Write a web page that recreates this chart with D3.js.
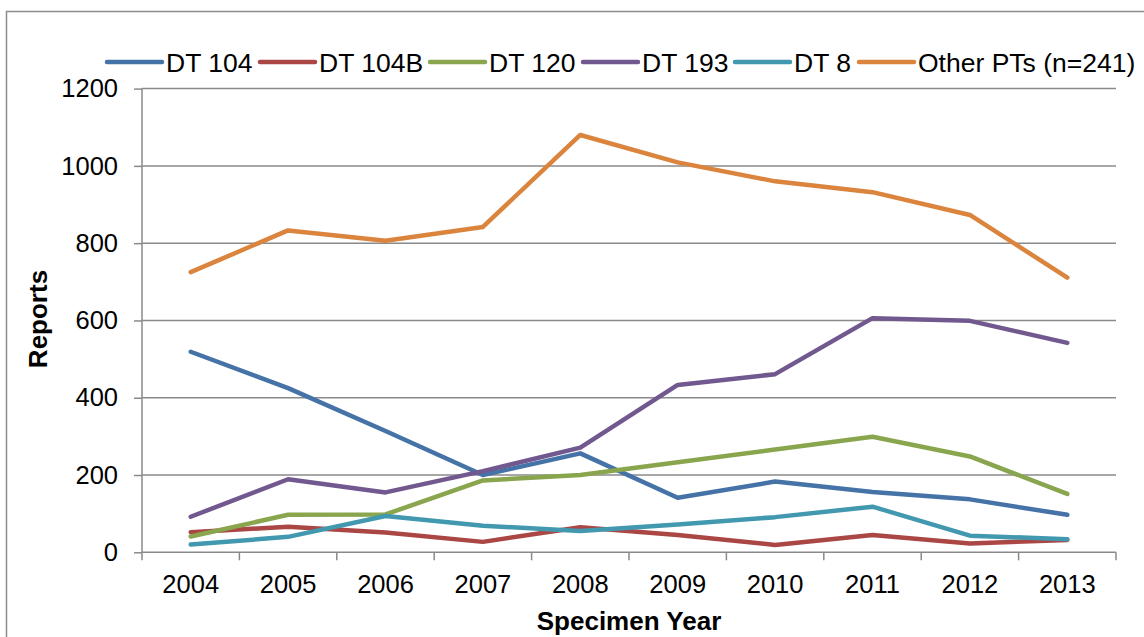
<!DOCTYPE html>
<meta charset="utf-8">
<script src="https://d3js.org/d3.v7.min.js"></script>
<style>
  body { margin: 0; background: #fff; }
  text { font-family: "Liberation Sans", Arial, sans-serif; fill: #000; }
</style>
<div id="chart"></div>
<script>

// data
var years = ["2004","2005","2006","2007","2008","2009","2010","2011","2012","2013"];
var seriesNames = ["DT 104", "DT 104B", "DT 120", "DT 193", "DT 8", "Other PTs (n=241)"];
var dt104  = [519, 425, 314, 200, 256, 141, 183, 156, 137, 97];
var dt104b = [52, 66, 51, 27, 65, 45, 19, 45, 23, 32];
var dt120  = [41, 97, 98, 186, 200, 233, 266, 299, 248, 151];
var dt193  = [92, 189, 155, 210, 271, 433, 461, 606, 599, 542];
var dt8    = [20, 40, 94, 69, 55, 72, 91, 118, 43, 34];
var other  = [725, 833, 806, 842, 1080, 1009, 960, 932, 873, 711];
var yTicks = [0, 200, 400, 600, 800, 1000, 1200];

var colors = ["#4572A7", "#AA4643", "#89A54E", "#71588F", "#4198AF", "#DB843D"];
var allValues = [dt104, dt104b, dt120, dt193, dt8, other];

var W = 1144, H = 637;
var svg = d3.select("#chart").append("svg")
    .attr("width", W)
    .attr("height", H);

// outer chart frame
svg.append("rect")
    .attr("x", 6.5).attr("y", 11.5)
    .attr("width", 1145).attr("height", 640)
    .attr("fill", "none")
    .attr("stroke", "#8c8c8c")
    .attr("stroke-width", 1.5);

var x = d3.scaleBand()
    .domain(years)
    .range([142, 1116]);

var y = d3.scaleLinear()
    .domain([0, 1200])
    .range([552.3, 88.6]);

// horizontal gridlines
svg.append("g")
  .selectAll("line")
  .data(yTicks.filter(function(d) { return d > 0; }))
  .join("line")
    .attr("x1", 142).attr("x2", 1116)
    .attr("y1", function(d) { return y(d); })
    .attr("y2", function(d) { return y(d); })
    .attr("stroke", "#8a8a8a")
    .attr("stroke-width", 1.5);

// Y axis
var yAxis = svg.append("g")
    .attr("transform", "translate(142,0)")
    .call(d3.axisLeft(y).tickValues(yTicks).tickSize(8).tickPadding(16).tickFormat(d3.format("d")));
yAxis.selectAll("line, path").attr("stroke", "#8a8a8a").attr("stroke-width", 1.5);
yAxis.select(".domain").attr("d", "M0," + y(0) + "V" + y(1200));
yAxis.selectAll("text")
    .style("font-size", "25.5px")
    .style("font-family", "'Liberation Sans', Arial, sans-serif")
    .attr("fill", "#000");

// X axis (category axis, ticks between categories)
var xAxis = svg.append("g")
    .attr("transform", "translate(0," + y(0) + ")")
    .call(d3.axisBottom(x).tickSize(0).tickPadding(22.5));
xAxis.select(".domain").attr("stroke", "#8a8a8a").attr("stroke-width", 1.5)
    .attr("d", "M142,0H1116");
xAxis.selectAll("text")
    .style("font-size", "25.5px")
    .style("font-family", "'Liberation Sans', Arial, sans-serif")
    .attr("fill", "#000");
xAxis.append("g")
  .selectAll("line")
  .data(years.concat(["end"]))
  .join("line")
    .attr("x1", function(d, i) { return 142 + i * x.bandwidth(); })
    .attr("x2", function(d, i) { return 142 + i * x.bandwidth(); })
    .attr("y1", 0).attr("y2", 8)
    .attr("stroke", "#8a8a8a")
    .attr("stroke-width", 1.5);

// lines
var line = d3.line()
    .x(function(d, i) { return x(years[i]) + x.bandwidth() / 2; })
    .y(function(d) { return y(d); });

svg.append("g")
  .selectAll("path")
  .data(allValues)
  .join("path")
    .attr("d", line)
    .attr("fill", "none")
    .attr("stroke", function(d, i) { return colors[i]; })
    .attr("stroke-width", 4.5)
    .attr("stroke-linejoin", "round")
    .attr("stroke-linecap", "round");

// legend
var legendX = [107, 260, 430, 583, 735, 859];
var legend = svg.append("g")
  .selectAll("g")
  .data(seriesNames)
  .join("g")
    .attr("transform", function(d, i) { return "translate(" + legendX[i] + ",62)"; });
legend.append("line")
    .attr("x1", 0).attr("x2", 55)
    .attr("stroke", function(d, i) { return colors[i]; })
    .attr("stroke-width", 4.5)
    .attr("stroke-linecap", "round");
legend.append("text")
    .attr("x", 59)
    .attr("y", 9.5)
    .style("font-size", "26.5px")
    .text(function(d) { return d; });

// axis titles
svg.append("text")
    .attr("transform", "translate(47,319) rotate(-90)")
    .attr("text-anchor", "middle")
    .style("font-size", "26px")
    .style("font-weight", "bold")
    .text("Reports");

svg.append("text")
    .attr("x", 629).attr("y", 630)
    .attr("text-anchor", "middle")
    .style("font-size", "26px")
    .style("font-weight", "bold")
    .text("Specimen Year");

</script>
